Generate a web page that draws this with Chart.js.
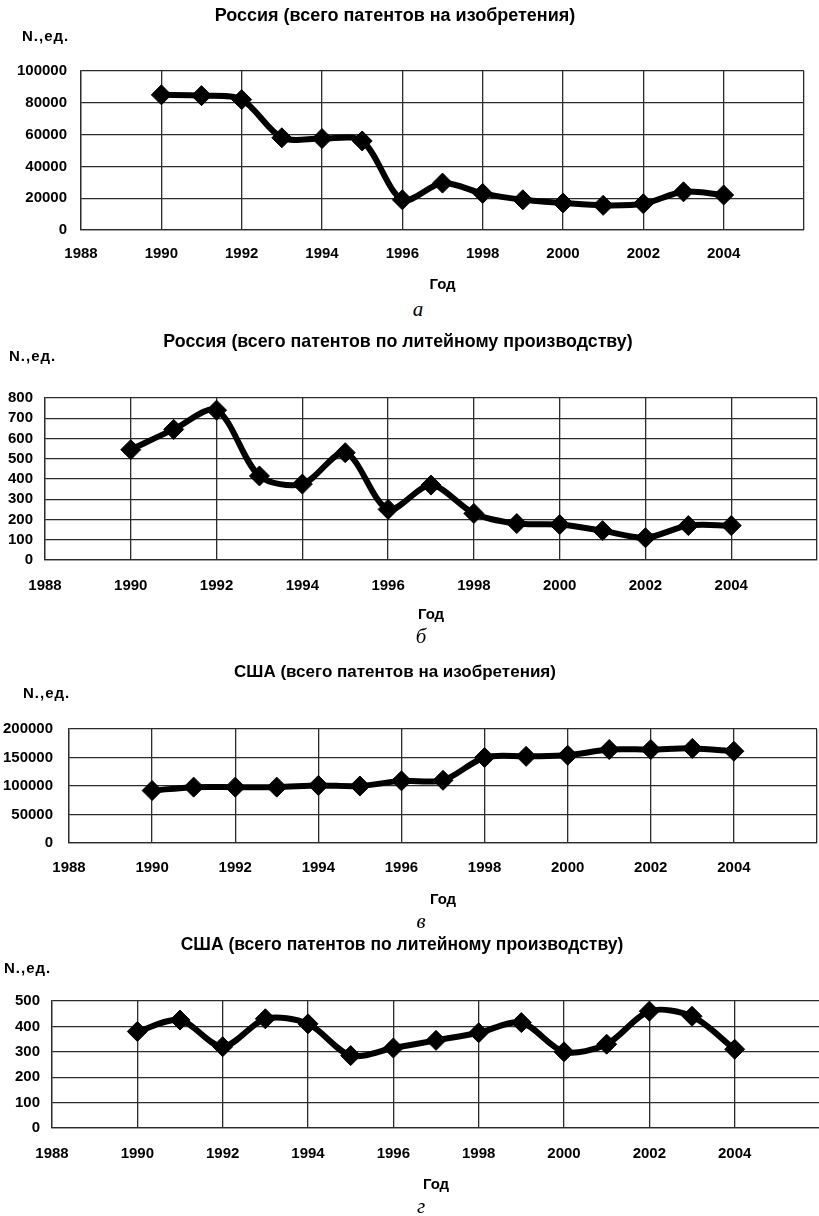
<!DOCTYPE html>
<html lang="ru">
<head>
<meta charset="utf-8">
<title>Патенты: Россия и США</title>
<script src="https://cdn.jsdelivr.net/npm/chart.js@4/dist/chart.umd.min.js"></script>
<style>
  html, body { margin: 0; padding: 0; background: #fff; }
  body { position: relative; width: 819px; height: 1216px; overflow: hidden;
         font-family: "Liberation Sans", Arial, sans-serif; }
  canvas { position: absolute; }
  .unidad { position: absolute; font-weight: bold; font-size: 15px; letter-spacing: 1px;
            line-height: 1; transform: translateY(-50%); }
  .letra { position: absolute; font-family: "Liberation Serif", "Times New Roman", serif;
           font-style: italic; font-size: 21px; line-height: 1; transform: translate(-50%, -50%); }
</style>
</head>
<body>

<canvas id="graficaA"></canvas>
<canvas id="graficaB"></canvas>
<canvas id="graficaC"></canvas>
<canvas id="graficaD"></canvas>

<div class="unidad" style="left:22px; top:35px">N.,ед.</div>
<div class="unidad" style="left:9px; top:355px">N.,ед.</div>
<div class="unidad" style="left:23px; top:692px">N.,ед.</div>
<div class="unidad" style="left:4px; top:967px">N.,ед.</div>

<div class="letra" style="left:418px; top:309px">а</div>
<div class="letra" style="left:421px; top:636px">б</div>
<div class="letra" style="left:421px; top:921px">в</div>
<div class="letra" style="left:421px; top:1206px">г</div>

<script>
// ===============================
// DATOS
// ===============================

const years = [1990, 1991, 1992, 1993, 1994, 1995, 1996, 1997, 1998, 1999, 2000, 2001, 2002, 2003, 2004];

// Россия, всего патентов на изобретения
const ruInventions = [85000, 84500, 82000, 58000, 57500, 56000, 19000, 29500, 23000, 19000, 17000, 15500, 16500, 24000, 22000];

// Россия, патенты по литейному производству
const ruFoundry = [545, 645, 740, 415, 375, 530, 250, 370, 230, 180, 175, 145, 110, 170, 170];

// США, всего патентов на изобретения
const usInventions = [92000, 98000, 98000, 98000, 101000, 100000, 109000, 110000, 150000, 152000, 154000, 164000, 164000, 166000, 161000];

// США, патенты по литейному производству
const usFoundry = [380, 425, 320, 430, 410, 285, 315, 345, 375, 415, 300, 330, 460, 440, 310];

const xTicks = [1988, 1990, 1992, 1994, 1996, 1998, 2000, 2002, 2004, 2006];
const lastXLabel = 2004;

const ruInventionsTicks = [0, 20000, 40000, 60000, 80000, 100000];
const ruFoundryTicks = [0, 100, 200, 300, 400, 500, 600, 700, 800];
const usInventionsTicks = [0, 50000, 100000, 150000, 200000];
const usFoundryTicks = [0, 100, 200, 300, 400, 500];


// ===============================
// GRÁFICA GENÉRICA
// ===============================

const fontFamily = '"Liberation Sans", Arial, sans-serif';
const tickSize = 15;
const gridColor = "#2b2b2b";

function dibujar(id, titulo, valores, yTicks, g) {

    const canvas = document.getElementById(id);

    // el lienzo empieza fuera de la página para poder centrar el título
    const left = -40;
    const width = g.plotRight - left + 2;

    canvas.width = width;
    canvas.height = g.height;
    canvas.style.left = left + "px";
    canvas.style.top = g.top + "px";

    const plotLeft = g.plotLeft - left;
    const plotRight = g.plotRight - left;
    const padLeft = 2 * (g.titleX - left) - plotRight;

    const titleLH = g.titleSize * 1.2;
    const tickLH = tickSize * 1.2;

    new Chart(canvas, {

        type: "line",

        data: {
            datasets: [{
                data: years.map((y, i) => ({ x: y, y: valores[i] })),
                borderColor: "#000",
                backgroundColor: "#000",
                borderWidth: 6,
                tension: 0.3,
                pointStyle: "rectRot",
                pointRadius: 10,
                pointBorderWidth: 1,
                pointBackgroundColor: "#000",
                pointBorderColor: "#000",
                fill: false
            }]
        },

        options: {

            responsive: false,
            animation: false,
            devicePixelRatio: 1,

            layout: {
                autoPadding: false,
                padding: { left: padLeft, right: 2, top: 0, bottom: 0 }
            },

            plugins: {
                legend: { display: false },
                tooltip: { enabled: false },
                title: {
                    display: true,
                    text: titulo,
                    color: "#000",
                    font: { family: fontFamily, size: g.titleSize, weight: "bold" },
                    padding: {
                        top: g.titleY - g.top - titleLH / 2,
                        bottom: g.plotTop - g.titleY - titleLH / 2
                    }
                }
            },

            scales: {

                x: {
                    type: "linear",
                    min: xTicks[0],
                    max: xTicks[xTicks.length - 1],
                    afterBuildTicks: s => { s.ticks = xTicks.map(v => ({ value: v })); },
                    afterFit: s => { s.height = g.top + g.height - g.plotBottom; },
                    grid: {
                        color: gridColor,
                        lineWidth: 1.3,
                        drawTicks: true,
                        tickLength: g.tickY - g.plotBottom - tickLH / 2,
                        tickColor: "rgba(0,0,0,0)"
                    },
                    border: { color: gridColor, width: 1.3 },
                    ticks: {
                        color: "#000",
                        autoSkip: false,
                        maxRotation: 0,
                        padding: 0,
                        font: { family: fontFamily, size: tickSize, weight: "bold" },
                        callback: v => v <= lastXLabel ? String(v) : ""
                    },
                    title: {
                        display: true,
                        text: "Год",
                        color: "#000",
                        font: { family: fontFamily, size: tickSize, weight: "bold" },
                        padding: { top: 0, bottom: g.top + g.height - g.axisTitleY - tickLH / 2 }
                    }
                },

                y: {
                    min: yTicks[0],
                    max: yTicks[yTicks.length - 1],
                    afterBuildTicks: s => { s.ticks = yTicks.map(v => ({ value: v })); },
                    afterFit: s => { s.width = plotLeft - padLeft; },
                    grid: { color: gridColor, lineWidth: 1.3, drawTicks: false },
                    border: { color: gridColor, width: 1.3 },
                    ticks: {
                        color: "#000",
                        autoSkip: false,
                        padding: g.labelGap,
                        font: { family: fontFamily, size: tickSize, weight: "bold" },
                        callback: v => String(v)
                    }
                }
            }
        }
    });
}


// ===============================
// LAS CUATRO GRÁFICAS
// ===============================

dibujar("graficaA", "Россия (всего патентов на изобретения)", ruInventions, ruInventionsTicks,
    { top: 0, height: 296, titleX: 395, titleY: 16, titleSize: 18, plotTop: 71, plotBottom: 230,
      plotLeft: 81, plotRight: 804, labelGap: 14, tickY: 254, axisTitleY: 285 });

dibujar("graficaB", "Россия (всего патентов по литейному производству)", ruFoundry, ruFoundryTicks,
    { top: 322, height: 303, titleX: 398, titleY: 342, titleSize: 17.8, plotTop: 398, plotBottom: 560,
      plotLeft: 45, plotRight: 817, labelGap: 12, tickY: 586, axisTitleY: 615 });

dibujar("graficaC", "США (всего патентов на изобретения)", usInventions, usInventionsTicks,
    { top: 652, height: 258, titleX: 395, titleY: 672, titleSize: 17, plotTop: 729, plotBottom: 843,
      plotLeft: 69, plotRight: 817, labelGap: 16, tickY: 868, axisTitleY: 900 });

dibujar("graficaD", "США (всего патентов по литейному производству)", usFoundry, usFoundryTicks,
    { top: 928, height: 268, titleX: 402, titleY: 945, titleSize: 17.5, plotTop: 1001, plotBottom: 1128,
      plotLeft: 52, plotRight: 820, labelGap: 12, tickY: 1154, axisTitleY: 1185 });

</script>
</body>
</html>
